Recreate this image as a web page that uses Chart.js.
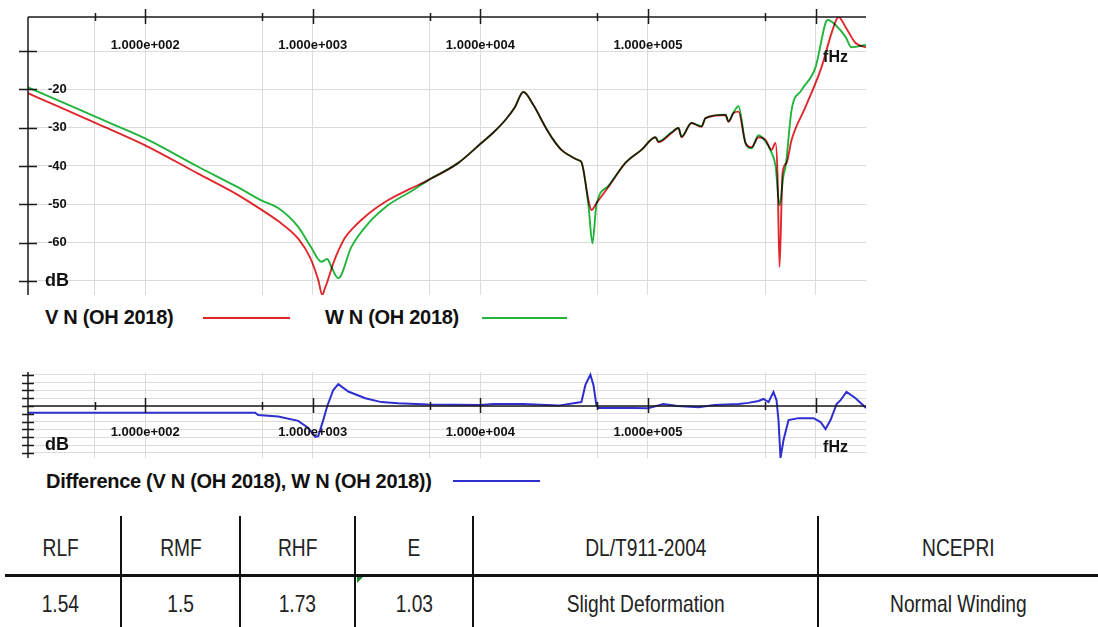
<!DOCTYPE html>
<html>
<head>
<meta charset="utf-8">
<script src="https://cdn.jsdelivr.net/npm/chart.js@4.4.1/dist/chart.umd.min.js"></script>
<style>
  body { margin: 0; background: #fff; width: 1098px; height: 627px; overflow: hidden; position: relative;
         font-family: "Liberation Sans", Arial, sans-serif; color: #111; }
  .box { position: absolute; left: 0; width: 1098px; }
  #topBox { top: 0; height: 300px; }
  #diffBox { top: 340px; height: 130px; }
  .legend { position: absolute; font-weight: bold; font-size: 20px; line-height: 22px; white-space: nowrap; letter-spacing: -0.3px; }
  .swatch { position: absolute; height: 2px; }
  .vline { position: absolute; width: 2px; background: #111; top: 516px; height: 111px; }
  .hline { position: absolute; left: 5px; width: 1093px; top: 574px; height: 3px; background: #111; }
  .cell { position: absolute; text-align: center; font-size: 24px; line-height: 28px; color: #222; }
  .cell span { display: inline-block; transform: scaleX(0.8); }
  .mark { position: absolute; left: 357px; top: 577px; width: 0; height: 0;
          border-top: 6px solid #1c8a2a; border-right: 6px solid transparent; }
</style>
</head>
<body>
<div class="box" id="topBox"><canvas id="topChart"></canvas></div>
<div class="box" id="diffBox"><canvas id="diffChart"></canvas></div>
<div id="legends"></div>
<div id="table"></div>
<script>
// V N (OH 2018) magnitude, Hz / dB
const vnFreq = [20, 30, 52, 100, 207, 359, 493, 622, 819, 966, 1079, 1140, 1180, 1221, 1326, 1440,
  1563, 1750, 1948, 2350, 2823, 3800, 4893, 7390, 10140, 12000, 14100, 16000, 18060, 20720, 24430, 27280,
  30450, 34440, 38470, 40090, 44140, 46000, 49270, 58080, 73400,
  91430, 110900, 115500, 138200, 152100, 158500, 181900, 208700, 220400, 290100, 302400, 323900, 347000,
  382000, 414900, 456800, 502900, 546300, 577200, 593300, 609600, 635300, 671400, 719400, 871000,
  1086000, 1246000, 1372000, 1510000, 1733000, 2000000];
const vnDb = [-21.0, -24.4, -29.0, -34.6, -42.0, -47.6, -51.4, -54.4, -59.0, -64.0, -69.8,
  -73.7, -72.0, -70.3, -65.4, -61.6, -58.6, -56.1, -54.1, -51.2, -48.9, -46.0, -43.7, -39.2, -34.0,
  -31.2, -28.0, -24.8, -20.7, -24.1, -29.8, -33.2, -35.8, -37.4, -38.5,
  -39.0, -48.9, -51.5, -49.7, -45.5, -39.2, -35.8, -32.5, -33.8, -31.4, -30.1, -32.5, -28.8, -29.8,
  -27.5, -26.7, -28.5, -26.2, -25.8, -34.0, -35.1, -32.5, -33.2, -35.8, -34.0, -42.4, -66.4, -41.9,
  -39.2, -33.2, -24.6, -14.2, -5.3, -1.1, -3.7, -7.9, -9.0];

// W N (OH 2018) magnitude, Hz / dB
const wnFreq = [20, 30, 52, 100, 207, 359, 493, 622, 819, 973, 1124, 1221, 1290, 1420, 1698, 2145, 2823,
  3873, 4893, 7390, 10140, 12000, 14100, 16000, 18060, 20720, 24430, 27280, 30450, 34440, 38470, 40090,
  44140, 46640, 49270, 58080, 73400,
  91430, 110900, 115500, 138200, 152100, 158500, 181900, 208700, 220400, 290100, 302400, 323900, 347000,
  382000, 414900, 456800, 502900, 546300, 577200, 609600, 644200, 662000, 719400, 825000, 1000000,
  1147000, 1183000, 1316000, 1510000, 1640000, 2000000];
const wnDb = [-19.5, -22.8, -27.4, -32.8, -40.2, -45.6, -49.0, -51.0, -55.9, -61.1, -65.0, -64.3, -66.3,
  -69.3, -61.2, -55.0, -50.2, -46.6, -43.7, -39.2, -34.0, -31.2, -28.0, -24.8, -20.7, -24.1, -29.8,
  -33.2, -35.8, -37.4, -38.5, -39.0,
  -50.2, -60.2, -50.2, -45.2, -39.2, -35.8, -32.5, -33.6, -31.2, -30.1, -32.3, -28.8, -29.6, -27.5,
  -26.6, -28.3, -26.0, -24.4, -34.0, -35.4, -32.0, -33.6, -36.5, -40.0, -50.3, -42.4, -40.3, -25.4,
  -20.2, -14.2, -2.7, -1.9, -3.2, -6.3, -9.0, -8.4];

// Difference V N - W N, Hz / dB
const diffFreq = [20, 453, 473, 622, 819, 940, 1035, 1079, 1155, 1221, 1326, 1420, 1629, 2058, 2565, 3239,
  4893, 10000, 12000, 18000, 29230, 40090, 42350, 45360, 47270, 49270, 50620, 80000, 100000, 123700,
  150000, 200000, 250000, 347000, 398000, 456800, 489000, 524000, 561000, 585000, 601000, 618000,
  644000, 690000, 791000, 973000, 1071000, 1147000, 1229000, 1335000, 1410000, 1530000, 1733000, 2000000];
const diffDb = [-1.7, -1.7, -2.3, -2.7, -3.8, -5.6, -7.9, -7.7, -3.6, 0, 4.1, 5.6, 3.7, 2.0, 1.0, 0.7,
  0.4, 0.25, 0.5, 0.5, 0.1, 1.0, 5.4, 8.0, 5.4, 0.25, -0.5, -0.5, -0.6, 0.5, 0, -0.3, 0.25, 0.5, 0.8,
  1.3, 1.8, 1.0, 3.6, 1.5, -3.6, -13.3, -8.7, -3.6, -3.1, -3.1, -4.1, -5.9, -3.6, 0.5, 1.5, 3.6, 2.0, -0.5];

const freqTicks = [50, 100, 500, 1000, 5000, 10000, 50000, 100000, 500000, 1000000];
const dbTicks = [-70, -60, -50, -40, -30, -20, -10];
const diffTicks = [-12, -10, -8, -6, -4, -2, 0, 2, 4, 6, 8];
const seriesNames = ['V N (OH 2018)', 'W N (OH 2018)', 'Difference (V N (OH 2018), W N (OH 2018))'];
const tableHead = ['RLF', 'RMF', 'RHF', 'E', 'DL/T911-2004', 'NCEPRI'];
const tableRow = ['1.54', '1.5', '1.73', '1.03', 'Slight Deformation', 'Normal Winding'];

const toPts = (f, d) => f.map((v, i) => ({ x: v, y: d[i] }));
const isDecade = v => Math.abs(Math.log10(v) - Math.round(Math.log10(v))) < 1e-9;
const sciLabel = v => '1.000e+' + String(Math.round(Math.log10(v))).padStart(3, '0');
const FONT = '"Liberation Sans", Arial, sans-serif';

// axis lines with crossing ticks, labels drawn inside the plot
function makeAxisFrame(cfg) {
  return {
    id: 'axisFrame',
    afterDatasetsDraw(chart) {
      const { ctx, chartArea: a, scales: { x, y } } = chart;
      const axisY = cfg.zeroAxis ? y.getPixelForValue(0) : a.top;
      ctx.save();
      ctx.strokeStyle = '#1a1a1a';
      ctx.lineWidth = 1.5;
      ctx.beginPath();
      ctx.moveTo(a.left, axisY); ctx.lineTo(a.right, axisY);
      ctx.moveTo(a.left, a.top); ctx.lineTo(a.left, a.bottom);
      x.ticks.forEach(t => {
        const px = Math.round(x.getPixelForValue(t.value)) + 0.5;
        const big = isDecade(t.value);
        ctx.moveTo(px, axisY - (big ? 8 : 4));
        ctx.lineTo(px, axisY + (big ? 7 : 4));
      });
      y.ticks.forEach(t => {
        const py = Math.round(y.getPixelForValue(t.value)) + 0.5;
        ctx.moveTo(a.left - cfg.yTick, py);
        ctx.lineTo(a.left + cfg.yTick, py);
      });
      ctx.stroke();

      ctx.fillStyle = '#111';
      ctx.textBaseline = 'middle';
      ctx.textAlign = 'center';
      ctx.font = 'bold 13px ' + FONT;
      x.ticks.forEach(t => {
        if (isDecade(t.value) && t.value < 1e6) {
          ctx.fillText(sciLabel(t.value), x.getPixelForValue(t.value), axisY + cfg.xLabelDy);
        }
      });
      ctx.font = 'bold 16px ' + FONT;
      ctx.fillText('fHz', x.getPixelForValue(1e6) + 20, axisY + cfg.unitDy);

      ctx.textAlign = 'left';
      y.ticks.forEach(t => {
        const py = y.getPixelForValue(t.value);
        if (t.value === cfg.unitAt) {
          ctx.font = 'bold 18px ' + FONT;
          ctx.fillText('dB', a.left + 17, py);
        } else if (cfg.numbers && t.value !== -10) {
          ctx.font = 'bold 13px ' + FONT;
          ctx.fillText(String(t.value), a.left + 20, py);
        }
      });
      ctx.restore();
    }
  };
}

// red trace multiplies over green so the shared stretch reads dark
const blendFirst = {
  id: 'blendFirst',
  beforeDatasetDraw(chart, args) {
    if (args.index === 0) { chart.ctx.save(); chart.ctx.globalCompositeOperation = 'multiply'; }
  },
  afterDatasetDraw(chart, args) {
    if (args.index === 0) chart.ctx.restore();
  }
};

function scalesFor(yMin, yMax, yTicks) {
  const grid = { color: '#dcdcdc', lineWidth: 1, drawTicks: false };
  return {
    x: {
      type: 'logarithmic', min: 20, max: 2e6,
      afterBuildTicks: s => { s.ticks = freqTicks.map(v => ({ value: v })); },
      ticks: { display: false }, grid, border: { display: false }
    },
    y: {
      min: yMin, max: yMax,
      afterBuildTicks: s => { s.ticks = yTicks.map(v => ({ value: v })); },
      ticks: { display: false }, grid, border: { display: false }
    }
  };
}

const common = {
  animation: false, responsive: true, maintainAspectRatio: false,
  elements: { point: { radius: 0 }, line: { tension: 0 } },
  plugins: { legend: { display: false }, tooltip: { enabled: false } }
};

new Chart(document.getElementById('topChart'), {
  type: 'line',
  data: {
    datasets: [
      { label: seriesNames[0], data: toPts(vnFreq, vnDb), borderColor: '#e0282c', borderWidth: 1.9,
        cubicInterpolationMode: 'monotone' },
      { label: seriesNames[1], data: toPts(wnFreq, wnDb), borderColor: '#22b43c', borderWidth: 1.9,
        cubicInterpolationMode: 'monotone' }
    ]
  },
  options: Object.assign({}, common, {
    layout: { padding: { left: 28, top: 17, right: 232, bottom: 5 } },
    scales: scalesFor(-73.7, -1.1, dbTicks)
  }),
  plugins: [blendFirst, makeAxisFrame({ zeroAxis: false, xLabelDy: 28.5, unitDy: 41, yTick: 9, unitAt: -70, numbers: true })]
});

new Chart(document.getElementById('diffChart'), {
  type: 'line',
  data: {
    datasets: [
      { label: seriesNames[2], data: toPts(diffFreq, diffDb), borderColor: '#2f2fd0', borderWidth: 2 }
    ]
  },
  options: Object.assign({}, common, {
    layout: { padding: { left: 28, top: 32, right: 232, bottom: 12 } },
    scales: scalesFor(-13.3, 8.7, diffTicks)
  }),
  plugins: [makeAxisFrame({ zeroAxis: true, xLabelDy: 26, unitDy: 42, yTick: 6, unitAt: -10, numbers: false })]
});

// legends under each plot
const legends = document.getElementById('legends');
function addLegend(text, left, top, color, x0, x1, lineY) {
  const t = document.createElement('div');
  t.className = 'legend';
  t.style.left = left + 'px';
  t.style.top = top + 'px';
  t.textContent = text;
  legends.appendChild(t);
  const s = document.createElement('div');
  s.className = 'swatch';
  s.style.left = x0 + 'px';
  s.style.width = (x1 - x0) + 'px';
  s.style.top = lineY + 'px';
  s.style.background = color;
  legends.appendChild(s);
}
addLegend(seriesNames[0], 45, 306, '#e0282c', 203, 290, 317);
addLegend(seriesNames[1], 325, 306, '#22b43c', 482, 567, 317);
addLegend(seriesNames[2], 46, 470, '#2f2fd0', 453, 540, 480);

// result table
const table = document.getElementById('table');
const colEdges = [0, 121, 240, 355, 473, 818, 1098];
function addCell(text, i, top) {
  const c = document.createElement('div');
  c.className = 'cell';
  c.style.left = colEdges[i] + 'px';
  c.style.width = (colEdges[i + 1] - colEdges[i]) + 'px';
  c.style.top = top + 'px';
  const s = document.createElement('span');
  s.textContent = text;
  c.appendChild(s);
  table.appendChild(c);
}
tableHead.forEach((t, i) => addCell(t, i, 534));
tableRow.forEach((t, i) => addCell(t, i, 590));
colEdges.slice(1, -1).forEach(x => {
  const v = document.createElement('div');
  v.className = 'vline';
  v.style.left = (x - 1) + 'px';
  table.appendChild(v);
});
const h = document.createElement('div');
h.className = 'hline';
table.appendChild(h);
const m = document.createElement('div');
m.className = 'mark';
table.appendChild(m);
</script>
</body>
</html>
